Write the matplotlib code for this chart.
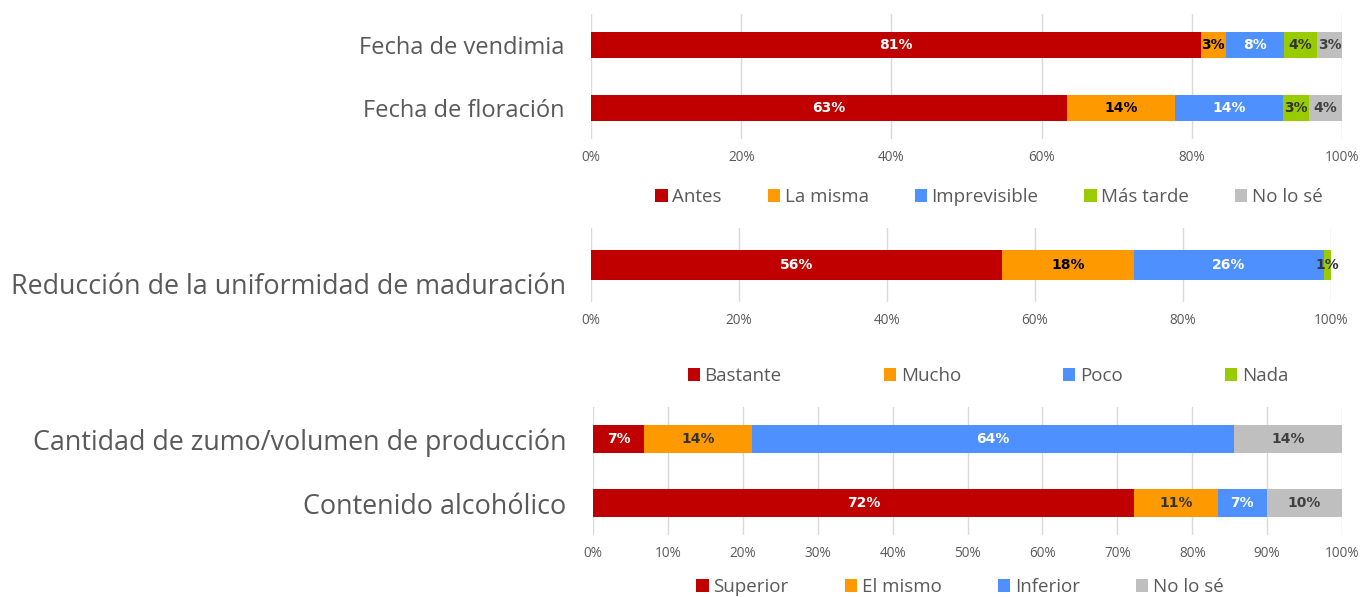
import numpy as np
import matplotlib.pyplot as plt
import matplotlib.transforms as mtransforms
from matplotlib.patches import Patch

plt.rcParams['font.family'] = ['Open Sans', 'DejaVu Sans']

# colours
c_red = '#C00000'
c_orange = '#FF9900'
c_blue = '#4D90FE'
c_green = '#99CC00'
c_grey = '#BFBFBF'
txt_grey = '#595959'

# panel 1: fechas
cats1 = ['Fecha de vendimia', 'Fecha de floración']
names1 = ['Antes', 'La misma', 'Imprevisible', 'Más tarde', 'No lo sé']
antes = [81.2, 63.4]
la_misma = [3.3, 14.4]
imprevisible = [7.8, 14.4]
mas_tarde = [4.4, 3.4]
no_lo_se1 = [3.3, 4.4]

# panel 2: uniformidad
cats2 = ['Reducción de la uniformidad de maduración']
names2 = ['Bastante', 'Mucho', 'Poco', 'Nada']
bastante = [55.6]
mucho = [17.8]
poco = [25.6]
nada = [1.0]

# panel 3: zumo / alcohol
cats3 = ['Cantidad de zumo/volumen de producción', 'Contenido alcohólico']
names3 = ['Superior', 'El mismo', 'Inferior', 'No lo sé']
superior = [6.8, 72.2]
el_mismo = [14.4, 11.2]
inferior = [64.4, 6.6]
no_lo_se3 = [14.4, 10.0]

W, H = 1362, 597
fig = plt.figure(figsize=(W/100, H/100), dpi=100)


def px_axes(x0, x1, y0, y1):
    return fig.add_axes([x0/W, 1-y1/H, (x1-x0)/W, (y1-y0)/H])


def stacked(ax, cats, series, colors, tcolors, barh, ticks, catsize, catpad):
    y = np.arange(len(cats))
    left = np.zeros(len(cats))
    for vals, col, tc in zip(series, colors, tcolors):
        vals = np.array(vals)
        ax.barh(y, vals, left=left, height=barh, color=col, zorder=3)
        for yi, l, v in zip(y, left, vals):
            ax.text(l + v/2, yi, '%d%%' % round(v), ha='center', va='center',
                    color=tc, fontsize=10, fontweight='bold',
                    family='DejaVu Sans', zorder=4)
        left = left + vals
    ax.set_xlim(0, 100)
    ax.set_ylim(len(cats)-0.5, -0.5)
    ax.set_yticks(y)
    ax.set_yticklabels(cats, fontsize=catsize, color=txt_grey)
    ax.set_xticks(ticks)
    ax.set_xticklabels(['%d%%' % t for t in ticks], fontsize=9.8, color=txt_grey)
    ax.tick_params(axis='both', length=0)
    ax.tick_params(axis='x', pad=8)
    ax.tick_params(axis='y', pad=catpad)
    ax.grid(axis='x', color='#D9D9D9', lw=1, zorder=0)
    for s in ax.spines.values():
        s.set_visible(False)


def legend(ax, names, colors, cx, cy, colspace):
    handles = [Patch(facecolor=c, edgecolor='none') for c in colors]
    ax.legend(handles, names, loc='center', bbox_to_anchor=(cx/W, 1-cy/H),
              bbox_transform=fig.transFigure, ncol=len(names), frameon=False,
              fontsize=13.5, labelcolor=txt_grey, handlelength=0.65,
              handleheight=0.65, handletextpad=0.25, columnspacing=colspace,
              borderpad=0)


ax1 = px_axes(591, 1342, 14, 139)
stacked(ax1, cats1, [antes, la_misma, imprevisible, mas_tarde, no_lo_se1],
        [c_red, c_orange, c_blue, c_green, c_grey],
        ['white', 'black', 'white', '#333333', '#404040'], 0.42,
        range(0, 101, 20), 17, 19)
legend(ax1, names1, [c_red, c_orange, c_blue, c_green, c_grey], 989, 197, 2.45)

ax2 = px_axes(591, 1331, 228, 302)
stacked(ax2, cats2, [bastante, mucho, poco, nada],
        [c_red, c_orange, c_blue, c_green],
        ['white', 'black', 'white', '#333333'], 0.49,
        range(0, 101, 20), 19.4, 18)
ax2.set_ylim(0.6, -0.6)
# category label sits a bit below the bar in the original
shift = mtransforms.ScaledTranslation(0, -0.18, fig.dpi_scale_trans)
for lab in ax2.get_yticklabels():
    lab.set_transform(lab.get_transform() + shift)
legend(ax2, names2, [c_red, c_orange, c_blue, c_green], 988, 376, 5.45)

ax3 = px_axes(593, 1342, 407, 535)
stacked(ax3, cats3, [superior, el_mismo, inferior, no_lo_se3],
        [c_red, c_orange, c_blue, c_grey],
        ['white', '#333333', 'white', '#404040'], 0.44,
        range(0, 101, 10), 19.4, 19)
legend(ax3, names3, [c_red, c_orange, c_blue, c_grey], 960, 587, 3.0)

fig.savefig('out.png', dpi=100)
